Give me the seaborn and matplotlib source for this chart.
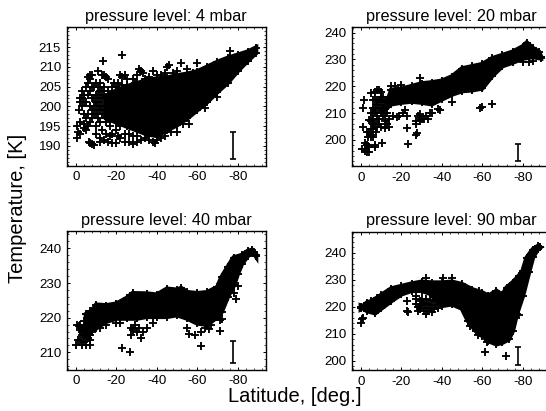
import matplotlib
matplotlib.use("Agg")
import matplotlib.pyplot as plt
from matplotlib.ticker import MultipleLocator
import pandas as pd
import seaborn as sns

# Values. Latitudes are degrees south (plotted as negative).
# The black masses are too dense to read point by point, so each is kept as
# a read-off lower/upper edge of the cloud; separate crosses are listed one by one.
titles = ["pressure level: 4 mbar", "pressure level: 20 mbar",
          "pressure level: 40 mbar", "pressure level: 90 mbar"]
lat_ticks = [0, 20, 40, 60, 80]
lat_tick_labels = ["0", "-20", "-40", "-60", "-80"]

upper_4 = [(15,202.5),(20,204),(25,205),(30,205.8),(35,206.5),(40,207),(45,207.2),(50,207.8),
           (55,208.2),(60,208.8),(65,210),(70,211.2),(75,212.2),(80,213),(85,213.8),(89,214.8)]
lower_4 = [(15,197),(20,196),(25,195),(30,194),(35,193),(40,192.6),(45,194),(50,195.3),
           (55,197),(60,199.1),(65,201.2),(70,203.7),(75,206),(80,209),(85,211.6),(89,213.5)]
single_4 = [(0.5,192),(0.5,195),(1,193.5),(2,193),(2,196),(1.5,199),(2,201),(2,202),(3,200),(3,202),
            (4,203),(4,198),(4,195.5),(5,194),(4,194.5),(6,195),(7,196),(6,198),(7,200),(5,201),
            (6,203),(5,205),(6,206),(6,207.5),(7,207),(7,208),(8,208),(8,205),(7,204),(8,202),
            (9,200),(10,203),(11,205),(11,209),(13,208),(14,208),(15,207.5),(13.5,211.5),(16,207),
            (16,204),(14,202),(12,199),(11,197),(10,195),(10,193),(12,192),(13,194),(15,196),(16,199),
            (18,203),(19,206),(20,205),(22,208),(23,207.5),(24,208),(25,207),(23,213),(22,204),
            (27,205),(28,207),(30,208),(31,209.5),(32,209),(33,208.5),(34,207),(38,209),(40,208),
            (45,210),(46,210.5),(52,211),(60,211),(55,209.5),(58,208.5),(7,190.8),(8,190.5),(9,190.2),
            (6.5,191),(12,191),(14,191.5),(16,191),(18,190.8),(20,190.8),(22,192),(24,191),(26,191),
            (28,190.5),(30,191),(32,191.5),(34,192),(36,191.5),(38,191),(39,190.7),(40,191.5),(42,192),
            (44,192.5),(47,193.5),(50,193.5),(53,195.5),(56,195.5),(64,199.5),(70,202.5),(76,214),
            (18,193),(20,194),(22,195),(15,193),(17,195),(19,197),(9,198),(10,200),(12,202),(13,204),
            (14,200),(16,201),(18,198),(18,200),(12,196),(9,205),(10,206),(12,206),(14,205),
            (8,199),(9,202),(10,198),(10,201),(11,199),(11,201),(11,203),(12,200),(12,204),(13,198),
            (13,200),(13,202),(14,198),(14,203),(15,198),(15,200),(15,202),(8,197),(24,193),(26,193),
            (28,192.5),(30,192.5),(21,192.5),(17,192.5),(23,205.5),(21,206),(18,205),(25,205.5),
            (29,206),(36,207.5),(42,208),(44,208.5),(48,208.5),(50,209),(4,201),(3,204),(5,197)]

upper_20 = [(15,218.6),(20,219),(25,220),(30,221),(35,221.4),(40,222),(45,223.6),(50,226.6),(55,227.4),
            (60,228.2),(65,230.4),(70,231.6),(75,232.8),(80,234.8),(82,236.2),(85,234.2),(88,232.8),(89,231)]
lower_20 = [(12,211.5),(15,213.4),(20,214),(25,214.4),(30,214),(35,213.4),(40,215.2),(45,217),(50,218.3),
            (55,218.6),(60,219.3),(65,224),(70,227.6),(75,228.9),(80,230.4),(85,231),(89,230.5)]
single_20 = [(0.5,196.5),(1,205),(1,212),(1.5,215),(2,196),(2,199),(3,195.5),(3,198),(3,203),(3.5,201),
             (4,195.5),(4,197.5),(4,207.5),(5,201),(5,204),(5,217.5),(5,210),(6,201),(6,204),(6,212),
             (6,208),(7,218),(7,197.5),(7,198),(7,206),(7.5,203),(8,218.5),(8,215),(9,218.5),(9,212),
             (9,208),(10,216),(10,205),(10,218),(10.5,199),(11,213),(11,209),(12,207),(12,204.5),(13,210),
             (13,206),(14,208),(14,205),(15,220),(16,209),(17,220),(18,208.5),(19,209),(20,220.5),(21,210),
             (22,211),(23,209),(23,204.5),(23.5,198.5),(27,206),(27.5,202.5),(27,202),(27,207),(28,209),
             (29,207),(30,208),(29,209.5),(31,208),(32,209),(33,208),(34,210),(35,210),(38,211.5),(39,211),
             (59,212),(60,212.2),(65,213.5),(45,214),(80,229),(83,229),(85,229.5),(7,210),(8,213),(7,215),
             (6,215),(9,206),(5,207),(8,205),(10,210),(11,216),(12,215),(13,214),(29,223),
             (8,210),(8,208),(9,214),(10,214),(10,212),(11,211),(12,210),(7,212),(6,206),(6,210),(4,203),(5,202)]

upper_40 = [(5,221),(8,222),(10,223.7),(15,223.5),(20,224),(25,225.6),(28,227),(35,226.9),(40,226.6),
            (45,228.3),(50,228),(52,228.5),(55,227.3),(60,227),(65,227.3),(70,228.8),(72,231.6),(75,234.5),
            (78,237.3),(82,238),(85,239.2),(87,239.5),(89,237.8)]
lower_40 = [(5,215),(8,216.5),(10,217),(15,218.9),(20,219.8),(25,219.8),(30,219.8),(35,220.3),(40,220.3),
            (45,220.3),(50,220.8),(55,219.8),(60,218.4),(65,218),(70,220.3),(72,221.7),(75,226),(78,229.3),
            (80,232.7),(82,235.5),(85,237.9),(88,238.8),(89,238.2)]
single_40 = [(0,212),(3,212),(5,212),(7,212),(1,213.5),(2,213.5),(4,213),(6,214),(7,213.5),(0.5,218),
             (1.5,217.5),(2,216.5),(3,216),(4,217),(5,216),(5,218),(6,219),(3,215),(5,214.5),(7,215),
             (8,216),(23,211.2),(26.5,210),(27,217),(27,215),(28,216.5),(29,218),(30,216),(31,217),(32,214),
             (33,216),(35,217),(38,218.5),(22,218.5),(20,218.5),(55,217),(56,215.2),(59,215),(62,211.8),
             (62,216),(64,217),(66,216.8),(67,218),(71,216.3),(72,219.5),(71,219.2),(79,225.5),(78,227),
             (80,229),(15,218),(12,217),(2,218),(4,219),(6,221),(7,222),(3,217),(4,215),(6,216),(6,218)]

upper_90 = [(0,219.6),(3,221.5),(5,222),(8,223.3),(10,224.3),(15,226.7),(20,227.6),(25,228.5),(30,229.2),
            (35,228.9),(40,228.9),(45,229.2),(50,228.3),(55,226.4),(60,225.2),(63,224),(67,225.8),(70,224.3),
            (72,227),(75,228.9),(78,231.3),(80,233.2),(82,238.1),(85,241.2),(87.5,242.4),(88.5,242)]
lower_90 = [(0,220),(3,218.5),(7,217.7),(10,219.4),(15,222.2),(20,224.7),(25,226),(30,226),(34,225),
            (38,222),(40,220.4),(45,221),(50,219.4),(53,214.8),(57,211),(60,209.3),(63,207.4),(67,206.2),
            (70,206.8),(73,208),(75,211),(77,217.3),(80,224),(83,232.7),(85,238.3),(87.5,241.5),(88.5,242)]
single_90 = [(0,214),(0.5,215.3),(1,216),(23,222),(23,218.3),(23.5,218),(27,224),(27,223),(28,218.3),
             (40.5,230.5),(58.5,226),(61.5,203.3),(71.5,201.8),(62.5,207),(58,209.5),(54,213),(78,217),
             (35,218),(32,217.5),(32,230.5),(45,230.5),(28,220),(29,222),(29,219),(30,220.5),(30,223),
             (31,218.5),(31,221.5),(32,219.5),(32,223),(33,218.5),(33,221),(34,219.5),(34,222.5),(35,220.5),
             (36,219),(36,222),(37,220.5),(38,219.5),(27,221)]

error_lat = [77.7, 77.5, 77.7, 77.5]
error_low = [186.8, 192, 206.8, 198.5]
error_high = [193.5, 198.6, 213.3, 205]

y_limits = [(185, 220), (190.3, 242), (205, 245), (196.6, 247.8)]
y_ticks = [[190, 195, 200, 205, 210, 215], [200, 210, 220, 230, 240],
           [210, 220, 230, 240], [200, 210, 220, 230, 240]]
y_minor = [1, 2, 2, 2]
boxes = [(66.7, 27.3, 199.3, 138.4), (351.7, 27.3, 199.3, 138.7),
         (66.7, 231, 199.3, 138.7), (351.7, 231.7, 199.3, 138.3)]

sns.set_theme(style="white")
plt.rcParams["font.family"] = ["Liberation Sans", "DejaVu Sans"]
W, H = 546, 411
fig = plt.figure(figsize=(W / 100, H / 100), dpi=100, facecolor="white")

panels = [(upper_4, lower_4, single_4), (upper_20, lower_20, single_20),
          (upper_40, lower_40, single_40), (upper_90, lower_90, single_90)]

for i, (upper, lower, single) in enumerate(panels):
    x0, y0, w, h = boxes[i]
    ax = fig.add_axes([x0 / W, 1 - (y0 + h) / H, w / W, h / H])
    up = pd.DataFrame(upper, columns=["lat", "T"])
    lo = pd.DataFrame(lower, columns=["lat", "T"])
    one = pd.DataFrame(single, columns=["lat", "T"])

    ax.fill(list(-up["lat"]) + list(-lo["lat"])[::-1],
            list(up["T"]) + list(lo["T"])[::-1],
            facecolor="black", edgecolor="black", lw=3.5, zorder=2)
    points = pd.concat([up, lo, one], ignore_index=True)
    points["lat"] = -points["lat"]
    sns.scatterplot(data=points, x="lat", y="T", marker="+", s=34, color="black",
                    linewidth=1.35, ax=ax, legend=False, zorder=3, clip_on=True)

    mid = (error_low[i] + error_high[i]) / 2
    ax.errorbar([-error_lat[i]], [mid], yerr=[[mid - error_low[i]], [error_high[i] - mid]],
                color="black", lw=1.2, capsize=2.3, capthick=1.2, zorder=4)

    ax.set_xlim(4.6, -94)
    ax.set_ylim(*y_limits[i])
    ax.set_xticks([-v for v in lat_ticks])
    ax.set_xticklabels(lat_tick_labels)
    ax.set_yticks(y_ticks[i])
    ax.xaxis.set_minor_locator(MultipleLocator(4))
    ax.yaxis.set_minor_locator(MultipleLocator(y_minor[i]))
    ax.tick_params(which="major", direction="in", length=2.2, width=0.7, top=True, right=True,
                   bottom=True, left=True, labelsize=9.6, colors="black", pad=4)
    ax.tick_params(which="minor", direction="in", length=1.2, width=0.6, top=True, right=True,
                   bottom=True, left=True)
    ax.set_xlabel("")
    ax.set_ylabel("")
    ax.set_title(titles[i], fontsize=11.7, color="black", pad=4.5)
    ax.grid(False)
    for s in ax.spines.values():
        s.set_color("black")
        s.set_linewidth(1.0)
        s.set_visible(True)

fig.text(295 / W, 1 - 396 / H, "Latitude, [deg.]", ha="center", va="center", fontsize=14.5, color="black")
fig.text(18 / W, 1 - 208 / H, "Temperature, [K]", ha="center", va="center", rotation=90,
         fontsize=14.5, color="black")
fig.savefig("out.png", dpi=100, facecolor="white")
